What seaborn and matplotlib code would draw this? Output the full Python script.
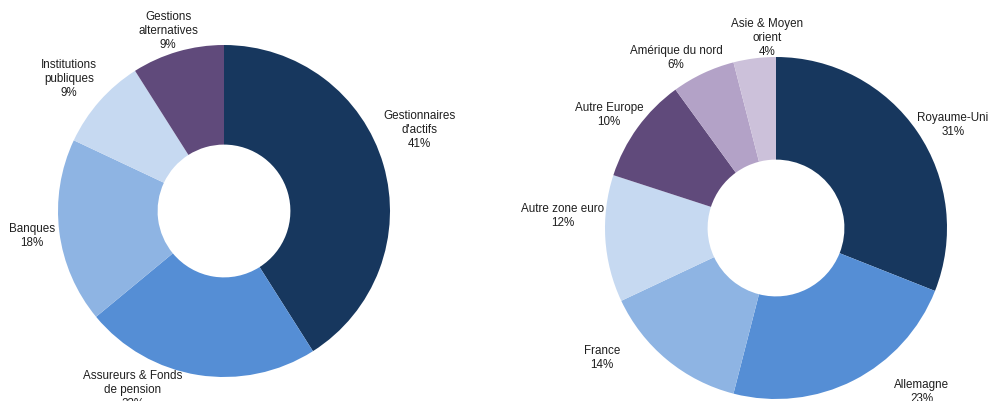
import matplotlib
matplotlib.use("Agg")
import matplotlib.pyplot as plt
import seaborn as sns

# Investor split by type
type_labels = ["Gestionnaires\nd'actifs", "Assureurs & Fonds\nde pension", "Banques",
               "Institutions\npubliques", "Gestions\nalternatives"]
type_values = [41, 23, 18, 9, 9]

# Investor split by geography
geo_labels = ["Royaume-Uni", "Allemagne", "France", "Autre zone euro",
              "Autre Europe", "Amérique du nord", "Asie & Moyen\norient"]
geo_values = [31, 23, 14, 12, 10, 6, 4]

sns.set_theme(style="white")
plt.rcParams["font.family"] = ["Liberation Sans", "DejaVu Sans"]

navy, mid_blue, light_blue, pale_blue = "#17375E", "#558ED5", "#8EB4E3", "#C6D9F1"
purple, lavender, pale_lavender = "#604A7B", "#B3A2C7", "#CCC1DA"
type_colors = sns.color_palette([navy, mid_blue, light_blue, pale_blue, purple])
geo_colors = sns.color_palette([navy, mid_blue, light_blue, pale_blue, purple,
                                lavender, pale_lavender])

W, H = 988, 401
fig = plt.figure(figsize=(W / 100, H / 100), dpi=100)
ax = fig.add_axes([0, 0, 1, 1])
ax.set_xlim(0, W)
ax.set_ylim(0, H)
ax.set_aspect("equal")
ax.axis("off")

text_kw = dict(ha="center", va="center", fontsize=8.4, color="#1f1f1f",
               linespacing=1.22)


def donut(values, labels, colors, center, radius, label_pos):
    ax.pie(values, colors=colors, startangle=90, counterclock=False,
           center=center, radius=radius,
           wedgeprops=dict(width=radius * 0.6, linewidth=0))
    for lab, val, (x, y) in zip(labels, values, label_pos):
        ax.text(x, H - y, f"{lab}\n{val}%", **text_kw)


# label anchor points (pixel layout, y measured from the top)
donut(type_values, type_labels, type_colors, (224, H - 211), 166,
      [(419, 130), (133, 390), (32, 236), (69, 79), (168, 31)])
donut(geo_values, geo_labels, geo_colors, (776, H - 228), 171,
      [(953, 125), (922, 392), (602, 358), (563, 216), (609, 115),
       (676, 58), (767, 38)])

ax.set_xlim(0, W)
ax.set_ylim(0, H)
fig.savefig("out.png", dpi=100)
